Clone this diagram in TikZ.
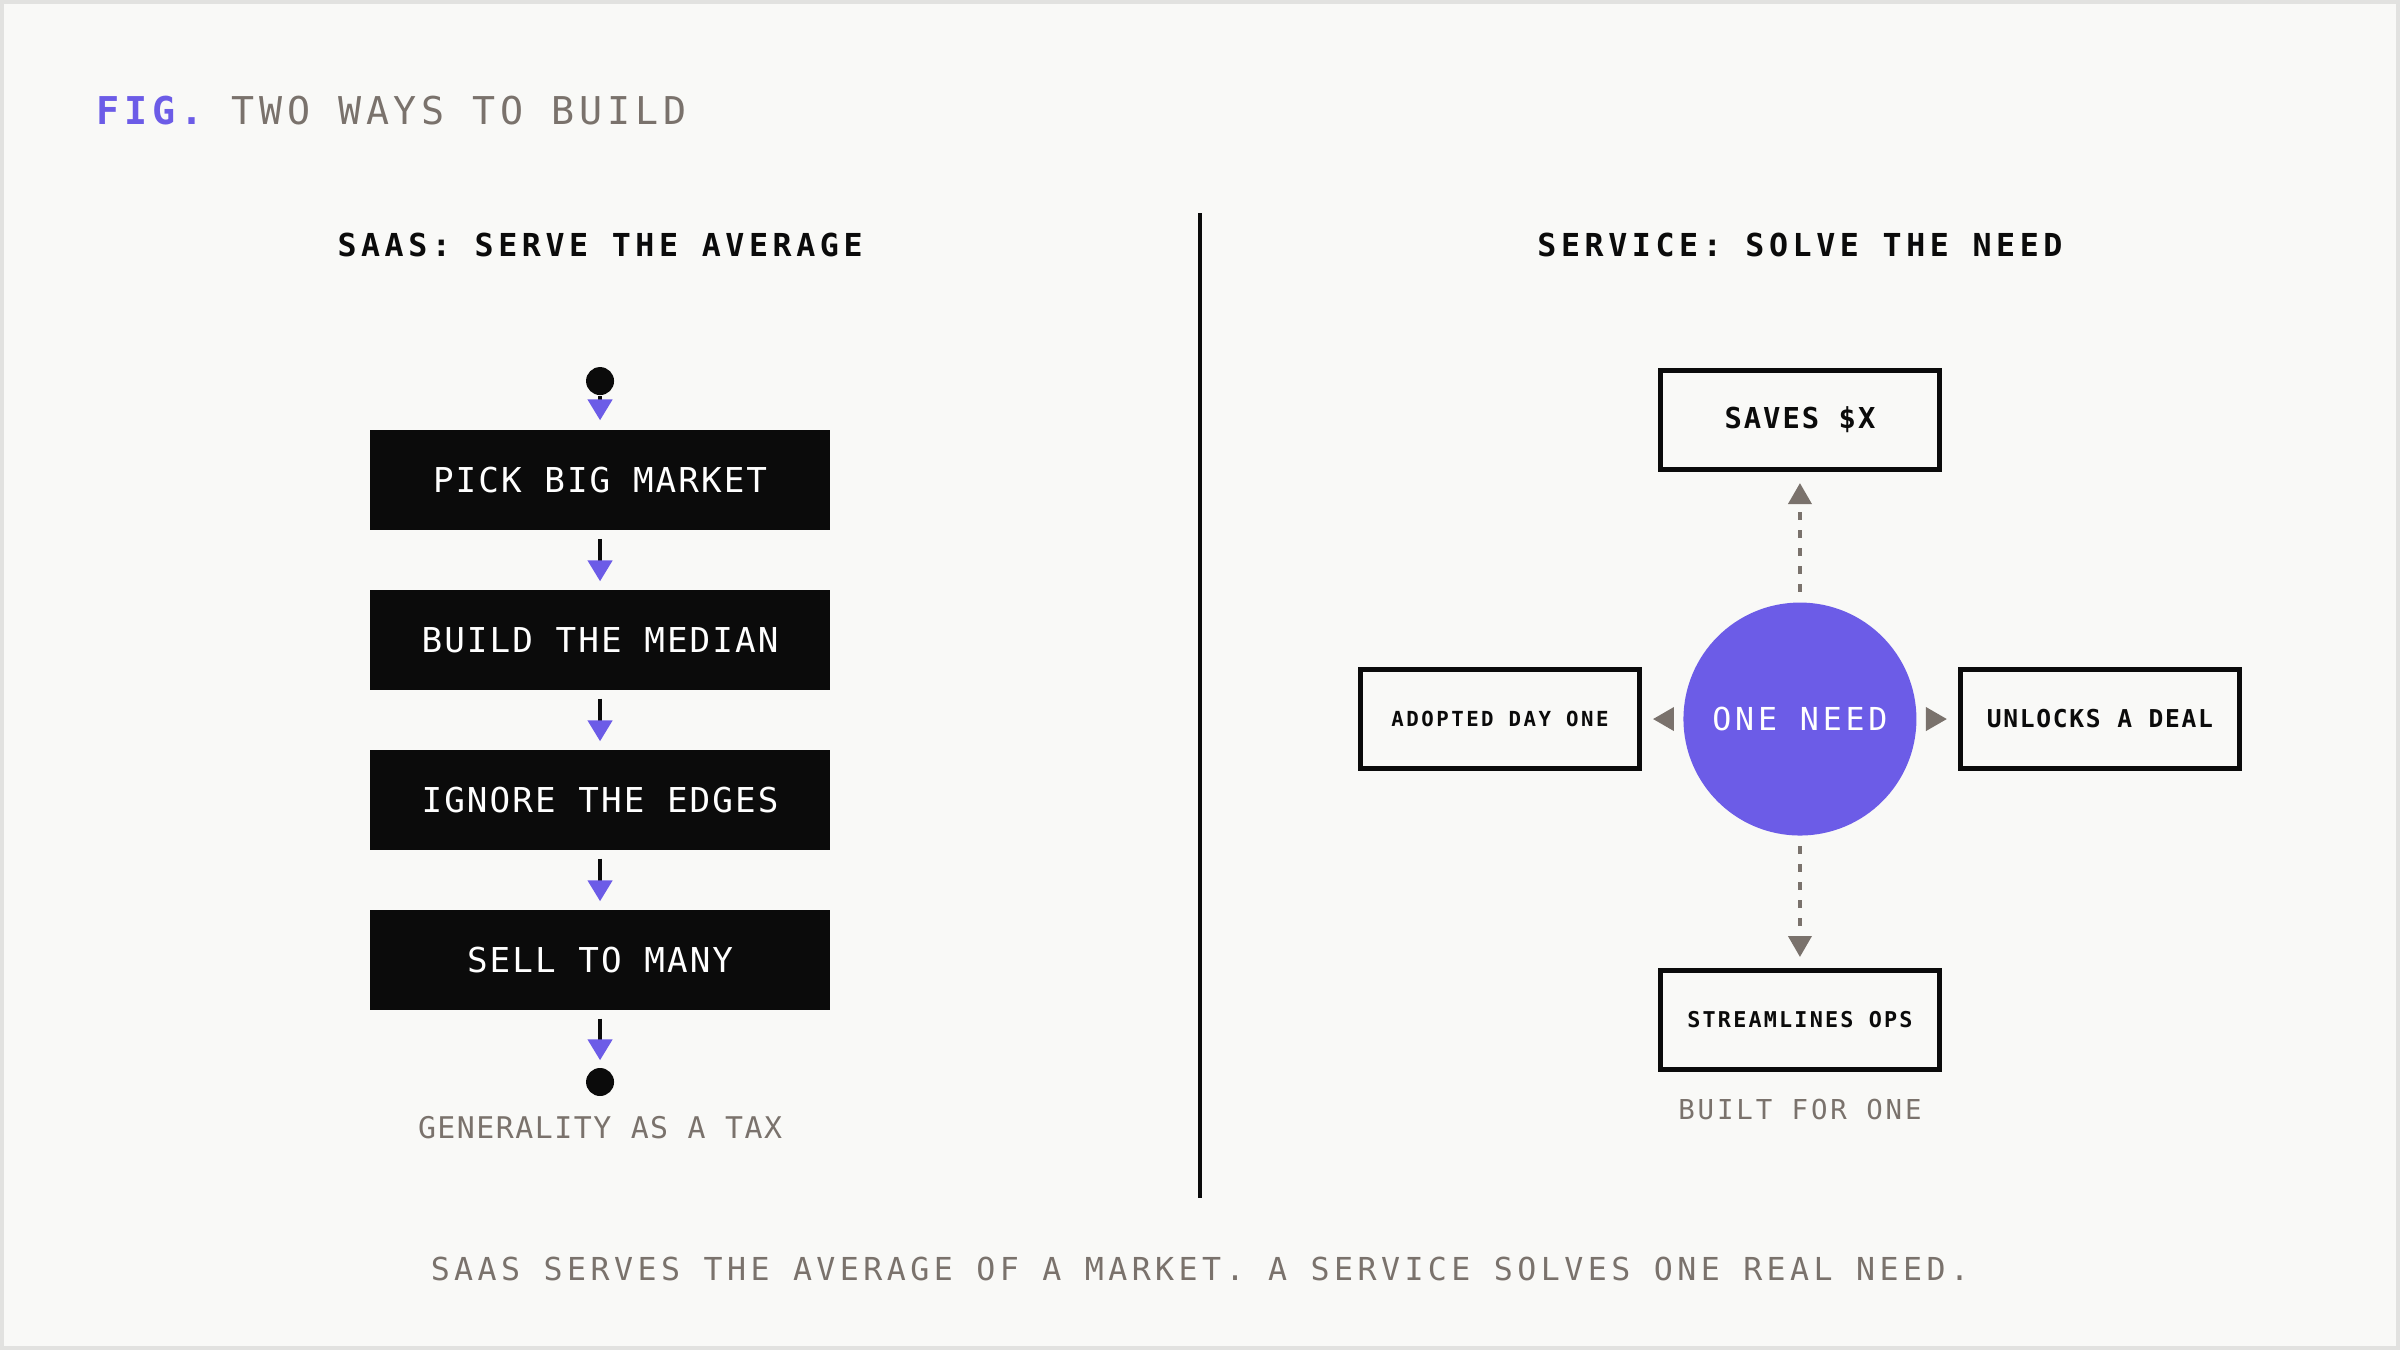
\documentclass[tikz,border=0pt]{standalone}
\usepackage{fontspec}
\setmonofont{DejaVu Sans Mono}
\usetikzlibrary{arrows.meta, positioning}
\definecolor{needpurple}{HTML}{6C5CE7}
\definecolor{inkblack}{HTML}{0B0B0B}
\definecolor{warmgray}{HTML}{7A726C}
\definecolor{paper}{HTML}{F9F9F7}
\definecolor{frameline}{HTML}{E2E2E0}
\newcommand{\spacedmono}[2]{\ttfamily\fontsize{#1}{#1}\selectfont\addfontfeature{LetterSpace=#2}}

\tikzset{
  stepbox/.style={fill=inkblack, text=white, minimum width=4.6cm, minimum height=1.0cm,
                  inner sep=0pt, font=\spacedmono{9.75pt}{6}},
  outcome/.style={draw=inkblack, line width=1.42pt, fill=paper, minimum width=2.79cm,
                  minimum height=0.99cm, inner sep=0pt, text=inkblack,
                  font={\spacedmono{5.9pt}{12}\bfseries}},
  enddot/.style={circle, fill=inkblack, minimum size=0.28cm, inner sep=0pt},
  flow/.style={inkblack, line width=1.3pt, -{Triangle[length=0.21cm, width=0.24cm, color=needpurple]},
               shorten >=0.08cm, shorten <=0.08cm},
  reach/.style={warmgray, line width=1.1pt, dash pattern=on 0.08cm off 0.1cm,
                -{Triangle[length=0.21cm, width=0.23cm]}, shorten >=0.11cm, shorten <=0.1cm},
  heading/.style={text=inkblack, font={\spacedmono{9pt}{14.5}\bfseries}},
  note/.style={text=warmgray}
}

\begin{document}
\begin{tikzpicture}

% Background
\fill[paper] (0,0) rectangle (24,13.5);
\draw[frameline, line width=1.2pt] (0.02,0.02) rectangle (23.98,13.48);

% Title
\node[anchor=west, text=warmgray, font=\spacedmono{10.9pt}{12.7}] (title) at (0.84,12.40)
  {{\color{needpurple}\bfseries FIG.} TWO WAYS TO BUILD};

% Divider
\draw[inkblack, line width=1pt] (12.0,11.37) -- (12.0,1.52);

% Left: SaaS flow
\node[heading] (saashead) at (6.0,11.05) {SAAS: SERVE THE AVERAGE};

\node[enddot] (start) at (6.0,9.69) {};
\node[stepbox] (pick) at (6.0,8.70) {PICK BIG MARKET};
\node[stepbox] (median) at (6.0,7.10) {BUILD THE MEDIAN};
\node[stepbox] (edges) at (6.0,5.50) {IGNORE THE EDGES};
\node[stepbox] (many) at (6.0,3.90) {SELL TO MANY};
\node[enddot] (stop) at (6.0,2.68) {};

\draw[flow, shorten <=0pt, shorten >=0.09cm] (start.south) -- (pick.north);
\draw[flow] (pick.south) -- (median.north);
\draw[flow] (median.south) -- (edges.north);
\draw[flow] (edges.south) -- (many.north);
\draw[flow, shorten >=0.07cm] (many.south) -- (stop.north);

\node[note, font=\spacedmono{8.5pt}{5}] (tax) at (6.0,2.22) {GENERALITY AS A TAX};

% Right: one need, four outcomes
\node[heading] (servicehead) at (18.0,11.05) {SERVICE: SOLVE THE NEED};

\node[circle, fill=needpurple, minimum size=2.33cm, inner sep=0pt, text=white,
      font=\spacedmono{9pt}{12}] (need) at (18.0,6.31) {ONE NEED};

\node[outcome, font={\spacedmono{8.2pt}{7}\bfseries}] (saves) at (18.0,9.30) {SAVES \$X};
\node[outcome] (adopted) at (15.0,6.31) {ADOPTED DAY ONE};
\node[outcome, font={\spacedmono{7pt}{7}\bfseries}] (deal) at (21.0,6.31) {UNLOCKS A DEAL};
\node[outcome, font={\spacedmono{6.2pt}{10}\bfseries}] (ops) at (18.0,3.30) {STREAMLINES OPS};

\draw[reach] (need.north) -- (saves.south);
\draw[reach] (need.south) -- (ops.north);
\draw[reach] (need.west) -- (adopted.east);
\draw[reach] (need.east) -- (deal.west);

\node[note, font=\spacedmono{7.8pt}{10.5}] (builtone) at (18.0,2.40) {BUILT FOR ONE};

% Caption
\node[note, font=\spacedmono{9pt}{14}] (caption) at (12.0,0.81)
  {SAAS SERVES THE AVERAGE OF A MARKET. A SERVICE SOLVES ONE REAL NEED.};

\end{tikzpicture}
\end{document}
